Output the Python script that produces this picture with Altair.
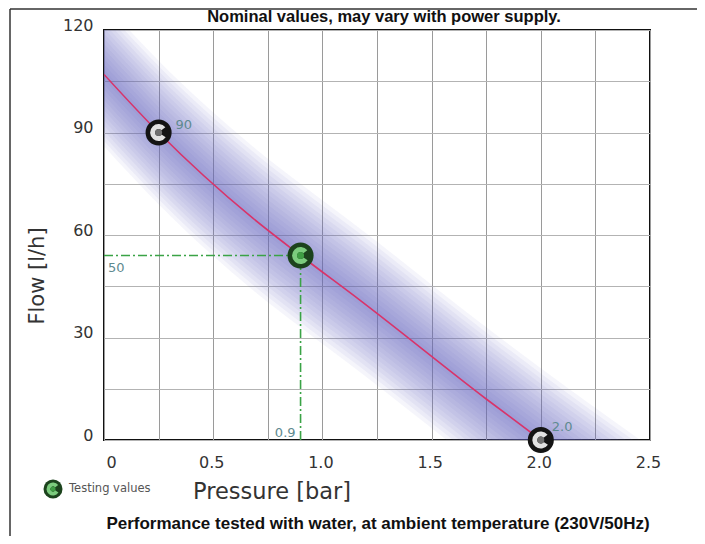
import altair as alt
import pandas as pd

# ---- data ----
line_p = [0.0, 0.25, 0.68, 0.9, 1.17, 1.75, 2.0]          # pressure [bar]
line_q = [107, 90, 65, 54, 41, 12, 0]                      # flow [l/h]
band_p = line_p + [2.5]                                    # shaded band continues past the curve
band_q = line_q + [-23]
band_half = [1.5, 3, 4.5, 6, 7.5, 9, 10.5, 12, 13.5, 15, 16.5, 18, 19.5, 21]   # fading band layers (l/h)

pt_p = [0.25, 0.9, 2.0]
pt_q = [90, 54, 0]
pt_kind = ["nominal", "testing", "nominal"]

guide_h_p = [0.0, 0.9]
guide_h_q = [54, 54]
guide_v_p = [0.9, 0.9]
guide_v_q = [0, 54]

x_ticks = [0, 0.25, 0.5, 0.75, 1.0, 1.25, 1.5, 1.75, 2.0, 2.25, 2.5]
y_ticks = [0, 15, 30, 45, 60, 75, 90, 105, 120]

TITLE = "Nominal values, may vary with power supply."
NOTE = "Performance tested with water, at ambient temperature (230V/50Hz)"
XT = "Pressure [bar]"
YT = "Flow [l/h]"
LEG = "Testing values"

# ---- tables ----
line_df = pd.DataFrame({"p": line_p, "q": line_q})
band_rows = []
for d in band_half:
    for p, q in zip(band_p, band_q):
        band_rows.append({"p": p, "lo": q - d, "hi": q + d, "d": d})
band_df = pd.DataFrame(band_rows)
pts = pd.DataFrame({"p": pt_p, "q": pt_q, "kind": pt_kind})
nom = pts[pts.kind == "nominal"]
tst = pts[pts.kind == "testing"]
gh = pd.DataFrame({"p": guide_h_p, "q": guide_h_q})
gv = pd.DataFrame({"p": guide_v_p, "q": guide_v_q})

xs = alt.Scale(domain=[0, 2.5], nice=False, zero=False)
ys = alt.Scale(domain=[0, 120], nice=False, zero=False)

x_axis = alt.Axis(
    values=x_ticks, grid=True, gridColor="#9a9a9a", gridWidth=1, ticks=False, domain=False,
    labelExpr="datum.value == 0 ? '0' : ((datum.value * 2) % 1 == 0 ? format(datum.value, '.1f') : '')",
    labelFlush=False, labelOffset={"condition": {"test": "datum.value == 0", "value": 7}, "value": -2},
    labelPadding=14, labelFontSize=16, labelColor="#333333", labelFont="DejaVu Sans", title=None,
)
y_axis = alt.Axis(
    values=y_ticks, grid=True, gridColor="#b3b3b3", gridWidth=1, ticks=False, domain=False,
    labelExpr="datum.value % 30 == 0 ? datum.label : ''",
    labelFlush=False, labelOffset=-5, labelPadding=11, labelFontSize=16,
    labelColor="#333333", labelFont="DejaVu Sans", title=None,
)

X = alt.X("p:Q", scale=xs, axis=x_axis)
Y = alt.Y("q:Q", scale=ys, axis=y_axis)

band = alt.Chart(band_df).mark_area(clip=True, color="#6b63c9", opacity=0.065, interpolate="monotone").encode(
    x=alt.X("p:Q", scale=xs, axis=x_axis), y=alt.Y("lo:Q", scale=ys, axis=y_axis), y2="hi:Q", detail="d:N"
)
curve = alt.Chart(line_df).mark_line(color="#d8346a", strokeWidth=1.6, interpolate="monotone", clip=True).encode(x=X, y=Y)

dash = [9, 3, 2, 3]
g1 = alt.Chart(gh).mark_line(color="#3aa346", strokeWidth=1.6, strokeDash=dash).encode(x=X, y=Y)
g2 = alt.Chart(gv).mark_line(color="#3aa346", strokeWidth=1.6, strokeDash=dash).encode(x=X, y=Y)


def marker(df, outer, c_col, dot, size=680, r=8.5, r2=3.5):
    o = alt.Chart(df).mark_point(shape="circle", filled=True, size=size, color=outer, opacity=1).encode(x=X, y=Y)
    c = alt.Chart(df).mark_arc(theta=2.15, theta2=7.2, radius=r, radius2=r2, color=c_col).encode(x=X, y=Y)
    dd = alt.Chart(df).mark_point(shape="circle", filled=True, size=(r2 * 2) ** 2, color=dot, opacity=1).encode(x=X, y=Y)
    return [o, c, dd]


m_nom = marker(nom, "#141414", "#e2e2e2", "#707070")
m_tst = marker(tst, "#1c431d", "#7ccc7e", "#3f9d44")

lab_col = "#5e8a90"
ann = []
ann.append(alt.Chart(nom[nom.q == 90]).mark_text(text="90", align="left", dx=17, dy=-8, fontSize=13,
                                                  color=lab_col, font="DejaVu Sans").encode(x=X, y=Y))
ann.append(alt.Chart(nom[nom.q == 0]).mark_text(text="2.0", align="left", dx=11, dy=-13, fontSize=13,
                                                 color=lab_col, font="DejaVu Sans").encode(x=X, y=Y))
ann.append(alt.Chart(gh.iloc[[0]]).mark_text(text="50", align="left", dx=4, dy=12, fontSize=13,
                                              color=lab_col, font="DejaVu Sans").encode(x=X, y=Y))
ann.append(alt.Chart(gv.iloc[[0]]).mark_text(text="0.9", align="right", dx=-5, dy=-7, fontSize=13,
                                              color=lab_col, font="DejaVu Sans").encode(x=X, y=Y))

one = pd.DataFrame({"k": [0]})


def txt(t, x, y, **kw):
    return alt.Chart(one).mark_text(text=t, baseline="middle", **kw).encode(x=alt.value(x), y=alt.value(y))


texts = [
    txt(TITLE, 280, -13, fontSize=16.5, fontWeight="bold", font="Liberation Sans", color="#111111"),
    txt(NOTE, 274, 494, fontSize=17, fontWeight="bold", font="Liberation Sans", color="#111111"),
    txt(XT, 168, 462, fontSize=22.5, font="DejaVu Sans", color="#333333"),
    txt(YT, -66, 246, fontSize=21, font="DejaVu Sans", color="#333333", angle=270),
    txt(LEG, -35, 459, fontSize=11.5, font="DejaVu Sans", color="#555555", align="left"),
]

leg_icon = [
    alt.Chart(one).mark_point(shape="circle", filled=True, size=361, color="#1c431d", opacity=1).encode(
        x=alt.value(-51), y=alt.value(459)),
    alt.Chart(one).mark_arc(theta=2.15, theta2=7.2, radius=6.5, radius2=2.5, color="#7ccc7e").encode(
        x=alt.value(-51), y=alt.value(459)),
    alt.Chart(one).mark_point(shape="circle", filled=True, size=25, color="#3f9d44", opacity=1).encode(
        x=alt.value(-51), y=alt.value(459)),
]

frame = [
    alt.Chart(one).mark_rule(color="#333333", strokeWidth=1.5).encode(
        x=alt.value(-94), y=alt.value(-21), y2=alt.value(510)),
    alt.Chart(one).mark_rule(color="#333333", strokeWidth=1.5).encode(
        x=alt.value(-94), x2=alt.value(600), y=alt.value(-21)),
]

chart = alt.layer(
    band, curve, g1, g2, *m_nom, *m_tst, *ann, *texts, *leg_icon, *frame
).properties(
    width=546, height=410,
    padding={"left": 96, "top": 22, "right": 47, "bottom": 96},
    autosize=alt.AutoSizeParams(type="none"),
    background="white",
).configure_view(stroke="#111111", strokeWidth=2)

chart.save("out.html", embed_options={"renderer": "svg", "actions": False})
